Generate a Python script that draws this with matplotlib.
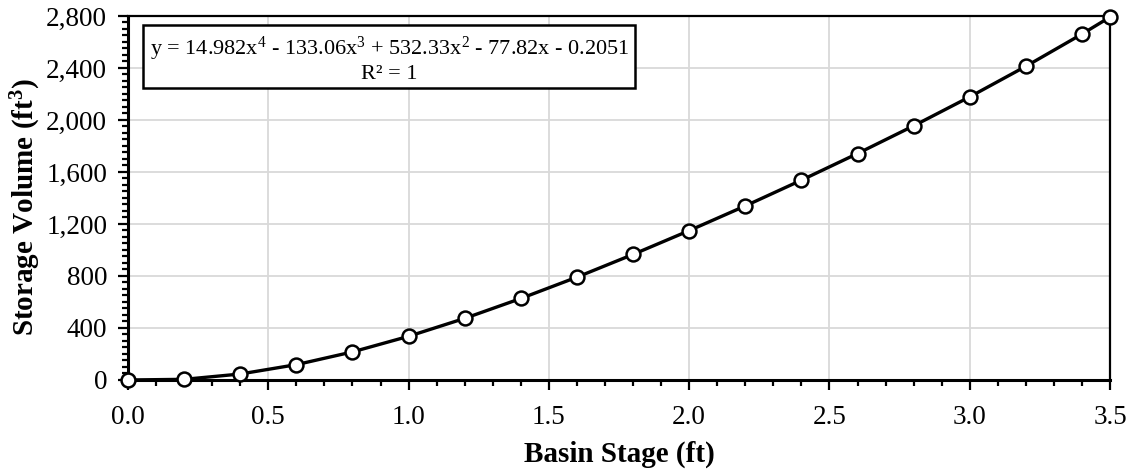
import matplotlib
matplotlib.use("Agg")
import matplotlib.pyplot as plt
from matplotlib.ticker import MultipleLocator, FuncFormatter
from matplotlib.patches import Rectangle

stage = [0.0, 0.2, 0.4, 0.6, 0.8, 1.0, 1.2, 1.4, 1.6, 1.8, 2.0, 2.2, 2.4, 2.6, 2.8, 3.0, 3.2, 3.4, 3.5]
volume = [0, 5, 46, 118, 216, 336, 474, 627, 791, 966, 1149, 1339, 1537, 1742, 1955, 2178, 2413, 2661, 2792]
equation = "y = 14.982x$^4$ - 133.06x$^3$ + 532.33x$^2$ - 77.82x - 0.2051"
r2_text = "R² = 1"
xlabel = "Basin Stage (ft)"
ylabel = "Storage Volume (ft$^\\mathbf{3}$)"

plt.rcParams['font.family'] = ['Liberation Serif', 'DejaVu Serif']
plt.rcParams['mathtext.fontset'] = 'custom'
plt.rcParams['mathtext.rm'] = 'Liberation Serif'
plt.rcParams['mathtext.it'] = 'Liberation Serif:italic'
plt.rcParams['mathtext.bf'] = 'Liberation Serif:bold'

fig = plt.figure(figsize=(11.32, 4.69), dpi=100)
ax = fig.add_axes([0.1131, 0.1898, 0.8675, 0.7761])

ax.plot(stage, volume, color='black', linewidth=2.4, marker='o', markersize=10,
        markerfacecolor='white', markeredgecolor='black', markeredgewidth=1.8,
        clip_on=False, zorder=5)

ax.set_xlim(0, 3.5)
ax.set_ylim(0, 2800)
ax.xaxis.set_major_locator(MultipleLocator(0.5))
ax.xaxis.set_minor_locator(MultipleLocator(0.1))
ax.yaxis.set_major_locator(MultipleLocator(400))
ax.yaxis.set_minor_locator(MultipleLocator(50))
ax.yaxis.set_major_formatter(FuncFormatter(lambda v, p: f"{int(v):,}"))
ax.xaxis.set_major_formatter(FuncFormatter(lambda v, p: f"{v:.1f}"))

ax.grid(True, which='major', color='#d9d9d9', linewidth=1.3)
ax.set_axisbelow(True)

ax.tick_params(axis='both', which='major', direction='out', length=7, width=1.6,
               labelsize=19.5, colors='black')
ax.tick_params(axis='x', which='major', pad=11)
ax.tick_params(axis='y', which='major', pad=8)
ax.tick_params(axis='both', which='minor', direction='out', length=4.5, width=1.6)

for side in ['left', 'bottom']:
    ax.spines[side].set_linewidth(2.2)
for side in ['top', 'right']:
    ax.spines[side].set_linewidth(1.6)

ax.set_xlabel(xlabel, fontsize=21, fontweight='bold', labelpad=8)
ax.set_ylabel(ylabel, fontsize=21, fontweight='bold')
ax.yaxis.set_label_coords(-0.087, 0.475)

rect = Rectangle((0.0153, 0.802), 0.5010, 0.173, transform=ax.transAxes,
                 facecolor='white', edgecolor='black', linewidth=1.8, zorder=6)
ax.add_patch(rect)
ax.text(0.266, 0.910, equation, transform=ax.transAxes, ha='center', va='center',
        fontsize=16, zorder=7)
ax.text(0.266, 0.840, r2_text, transform=ax.transAxes, ha='center', va='center',
        fontsize=16, zorder=7)

fig.savefig("out.png", dpi=100)
